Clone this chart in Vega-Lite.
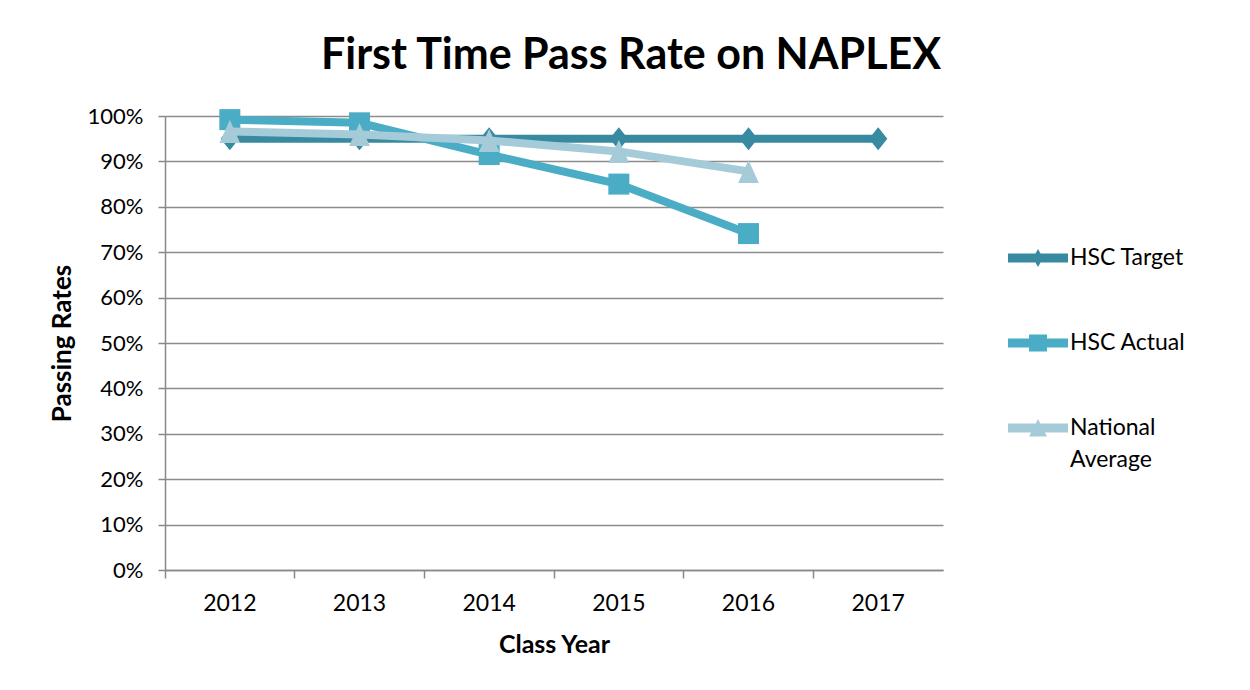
{
  "$schema": "https://vega.github.io/schema/vega-lite/v6.json",
  "autosize": "none",
  "width": 778,
  "height": 454,
  "padding": {"left": 165, "top": 116, "right": 307, "bottom": 120},
  "background": "white",
  "config": {
    "font": "Lato",
    "view": {"stroke": null},
    "axis": {"labelFont": "Lato", "titleFont": "Lato", "labelColor": "black", "titleColor": "black"}
  },
  "title": {
    "text": "First Time Pass Rate on NAPLEX",
    "font": "Lato",
    "fontSize": 43,
    "fontWeight": "bold",
    "color": "black",
    "anchor": "middle",
    "dx": 77,
    "offset": 26
  },
  "data": {
    "values": [
      {"year": "2012", "series": "HSC Target", "value": 0.95},
      {"year": "2013", "series": "HSC Target", "value": 0.95},
      {"year": "2014", "series": "HSC Target", "value": 0.95},
      {"year": "2015", "series": "HSC Target", "value": 0.95},
      {"year": "2016", "series": "HSC Target", "value": 0.95},
      {"year": "2017", "series": "HSC Target", "value": 0.95},
      {"year": "2012", "series": "HSC Actual", "value": 0.992},
      {"year": "2013", "series": "HSC Actual", "value": 0.985},
      {"year": "2014", "series": "HSC Actual", "value": 0.915},
      {"year": "2015", "series": "HSC Actual", "value": 0.85},
      {"year": "2016", "series": "HSC Actual", "value": 0.741},
      {"year": "2012", "series": "National Average", "value": 0.966},
      {"year": "2013", "series": "National Average", "value": 0.959},
      {"year": "2014", "series": "National Average", "value": 0.946},
      {"year": "2015", "series": "National Average", "value": 0.922},
      {"year": "2016", "series": "National Average", "value": 0.878}
    ]
  },
  "encoding": {
    "x": {
      "field": "year",
      "type": "ordinal",
      "scale": {"type": "band", "paddingInner": 0, "paddingOuter": 0},
      "axis": {
        "title": "Class Year",
        "titleFontSize": 25,
        "titleFontWeight": "bold",
        "titlePadding": 17,
        "labelAngle": 0,
        "labelFontSize": 23,
        "labelPadding": 14,
        "bandPosition": 0,
        "labelOffset": 0,
        "tickSize": 8,
        "tickColor": "#888888",
        "tickWidth": 1.5,
        "domainColor": "#888888",
        "domainWidth": 1.5,
        "grid": false
      }
    },
    "y": {
      "field": "value",
      "type": "quantitative",
      "scale": {"domain": [0, 1], "nice": false},
      "axis": {
        "title": "Passing Rates",
        "titleFontSize": 26,
        "titleFontWeight": "bold",
        "titlePadding": 12,
        "format": ".0%",
        "values": [0, 0.1, 0.2, 0.3, 0.4, 0.5, 0.6, 0.7, 0.8, 0.9, 1],
        "labelOverlap": false,
        "labelFontSize": 22,
        "labelPadding": 15,
        "tickSize": 7,
        "tickColor": "#888888",
        "tickWidth": 1.5,
        "gridColor": "#8c8c8c",
        "gridWidth": 1.5,
        "domainColor": "#888888",
        "domainWidth": 1.5
      }
    },
    "color": {
      "field": "series",
      "type": "nominal",
      "scale": {
        "domain": ["HSC Target", "HSC Actual", "National Average"],
        "range": ["#378a9f", "#4bacc6", "#a5cbd9"]
      }
    }
  },
  "layer": [
    {
      "transform": [{"filter": "datum.series === 'HSC Target'"}],
      "layer": [
        {
          "mark": {"type": "line", "strokeWidth": 8, "strokeCap": "round"},
          "encoding": {
            "color": {
              "field": "series",
              "type": "nominal",
              "legend": {
                "orient": "none",
                "legendX": 843,
                "legendY": 112,
                "title": null,
                "labelFont": "Lato",
                "labelFontSize": 23,
                "labelColor": "black",
                "labelOffset": 2,
                "symbolSize": 3600,
                "symbolStrokeWidth": 0,
                "rowPadding": 43,
                "labelExpr": "datum.label === 'National Average' ? ['National', 'Average'] : datum.label",
                "encode": {
                  "labels": {
                    "update": {"lineHeight": {"value": 32}}
                  },
                  "symbols": {
                    "update": {
                      "shape": {"signal": "datum.value === 'HSC Target' ? 'M-1,-0.15H1V0.15H-1Z M0,-0.3L0.17,0L0,0.3L-0.17,0Z' : datum.value === 'HSC Actual' ? 'M-1,-0.15H1V0.15H-1Z M-0.3,-0.28H0.3V0.28H-0.3Z' : 'M-1,-0.15H1V0.15H-1Z M0,-0.3L0.3,0.28H-0.3Z'"},
                      "fill": {"signal": "datum.value === 'HSC Target' ? '#378a9f' : datum.value === 'HSC Actual' ? '#4bacc6' : '#a5cbd9'"},
                      "opacity": {"value": 1},
                      "fillOpacity": {"value": 1},
                      "strokeWidth": {"value": 0}
                    }
                  }
                }
              }
            }
          }
        },
        {
          "mark": {"type": "point", "filled": true, "opacity": 1, "shape": "M0,-1L0.8,0L0,1L-0.8,0Z", "size": 529},
          "encoding": {"color": {"field": "series", "type": "nominal", "legend": null}}
        }
      ]
    },
    {
      "transform": [{"filter": "datum.series === 'HSC Actual'"}],
      "layer": [
        {
          "mark": {"type": "line", "strokeWidth": 8, "strokeCap": "round"},
          "encoding": {"color": {"field": "series", "type": "nominal", "legend": null}}
        },
        {
          "mark": {"type": "point", "filled": true, "opacity": 1, "shape": "square", "size": 441},
          "encoding": {"color": {"field": "series", "type": "nominal", "legend": null}}
        }
      ]
    },
    {
      "transform": [{"filter": "datum.series === 'National Average'"}],
      "layer": [
        {
          "mark": {"type": "line", "strokeWidth": 8, "strokeCap": "round"},
          "encoding": {"color": {"field": "series", "type": "nominal", "legend": null}}
        },
        {
          "mark": {"type": "point", "filled": true, "opacity": 1, "shape": "M0,-1L0.9,1H-0.9Z", "size": 529},
          "encoding": {"color": {"field": "series", "type": "nominal", "legend": null}}
        }
      ]
    }
  ]
}
